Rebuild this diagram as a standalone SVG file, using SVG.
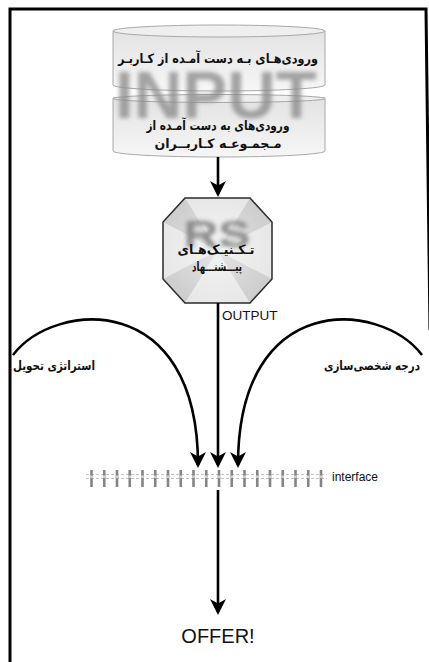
<svg xmlns="http://www.w3.org/2000/svg" width="429" height="662" viewBox="0 0 429 662">
<style>
.fa{font-family:"DejaVu Sans",sans-serif;font-weight:bold;fill:#111;}
.lat{font-family:"Liberation Sans",Arial,sans-serif;fill:#111;}
.conn{fill:none;stroke:#000;stroke-width:2.6;}
.cyl{stroke:#a8a8a8;stroke-width:1;}
</style>
<defs>
<linearGradient id="cylg" x1="0" y1="0" x2="0" y2="1">
<stop offset="0" stop-color="#e3e3e3"/><stop offset="1" stop-color="#f6f6f6"/>
</linearGradient>
<radialGradient id="octg" cx="0.5" cy="0.5" r="0.6">
<stop offset="0" stop-color="#ffffff" stop-opacity="0.5"/><stop offset="1" stop-color="#ffffff" stop-opacity="0"/>
</radialGradient>
<filter id="blur" x="-20%" y="-30%" width="140%" height="160%"><feGaussianBlur stdDeviation="2"/></filter>
<marker id="ah" markerUnits="userSpaceOnUse" viewBox="-14 -9 18 18" refX="0" refY="0" markerWidth="18" markerHeight="18" orient="auto">
<path d="M3,0 L-13,-8 L-8.5,0 L-13,8 Z" fill="#000"/>
</marker>
<g id="tick">
<rect x="-1.3" y="470" width="2.6" height="17" fill="#858585"/>
<rect x="-1.3" y="475.5" width="2.6" height="2.5" fill="#d0d0d0"/>
</g>
</defs>
<rect width="429" height="662" fill="#fff"/>
<!-- frame -->
<path d="M10,680 L10,9 L426,9 L430,330" fill="none" stroke="#000" stroke-width="3"/>

<g id="input-store">
<path class="cyl" d="M113,98 L113,151 A106,6 0 0 0 325,151 L325,98 Z" fill="url(#cylg)"/>
<ellipse class="cyl" cx="219" cy="98.5" rx="106" ry="4" fill="#eeeeee"/>
<path class="cyl" d="M113,31 L113,85 A106,6 0 0 0 325,85 L325,31 Z" fill="url(#cylg)"/>
<ellipse class="cyl" cx="219" cy="31" rx="106" ry="6" fill="#efefef"/>
<text x="216" y="118" text-anchor="middle" font-family="Liberation Sans,Arial,sans-serif" font-weight="bold" font-size="66" fill="#8c8c8c" opacity="0.78" filter="url(#blur)" textLength="202" lengthAdjust="spacingAndGlyphs">INPUT</text>
<text class="fa" x="218" y="63" text-anchor="middle" font-size="13" textLength="200" lengthAdjust="spacingAndGlyphs">ورودی‌هـای بـه دست آمـده از کـاربـر</text>
<text class="fa" x="218" y="130" text-anchor="middle" font-size="13" textLength="143" lengthAdjust="spacingAndGlyphs">ورودی‌های به دست آمـده از</text>
<text class="fa" x="218" y="148" text-anchor="middle" font-size="13" textLength="127" lengthAdjust="spacingAndGlyphs">مـجمـوعـه کـاربــران</text>
</g>

<g id="rs-technique">
<polygon points="185,198 250,198 272,222 272,279 250,303 185,303 163,279 163,222" fill="#cbcbcb"/>
<g fill="#e6e6e6">
<polygon points="217.5,250.5 185,198 250,198"/>
<polygon points="217.5,250.5 272,222 272,279"/>
<polygon points="217.5,250.5 250,303 185,303"/>
<polygon points="217.5,250.5 163,279 163,222"/>
</g>
<polygon points="185,198 250,198 272,222 272,279 250,303 185,303 163,279 163,222" fill="url(#octg)" stroke="#2a2a2a" stroke-width="1.5"/>
<text x="217" y="247" text-anchor="middle" font-family="Liberation Sans,Arial,sans-serif" font-weight="bold" font-size="36" fill="#7e7e7e" opacity="0.85" filter="url(#blur)" textLength="67" lengthAdjust="spacingAndGlyphs">RS</text>
<text class="fa" x="216" y="254" text-anchor="middle" font-size="13" textLength="77" lengthAdjust="spacingAndGlyphs">تـکـنیـک‌هـای</text>
<text class="fa" x="217" y="271" text-anchor="middle" font-size="13" textLength="50" lengthAdjust="spacingAndGlyphs">پیـــشنـــهاد</text>
</g>

<g id="interface">
<line x1="86" y1="474.5" x2="327" y2="474.5" stroke="#c4c4c4" stroke-width="1" stroke-dasharray="3,2"/>
<line x1="86" y1="478.5" x2="327" y2="478.5" stroke="#c4c4c4" stroke-width="1" stroke-dasharray="3,2"/>
<use href="#tick" x="91.5"/><use href="#tick" x="104.25"/><use href="#tick" x="117"/><use href="#tick" x="129.75"/>
<use href="#tick" x="142.5"/><use href="#tick" x="155.25"/><use href="#tick" x="168"/><use href="#tick" x="180.75"/>
<use href="#tick" x="193.5"/><use href="#tick" x="206.25"/><use href="#tick" x="219"/><use href="#tick" x="231.75"/>
<use href="#tick" x="244.5"/><use href="#tick" x="257.25"/><use href="#tick" x="270"/><use href="#tick" x="282.75"/>
<use href="#tick" x="295.5"/><use href="#tick" x="308.25"/><use href="#tick" x="321"/>
<text class="lat" x="332" y="481" font-size="12">interface</text>
</g>

<g id="offer">
<text class="lat" x="218" y="643" text-anchor="middle" font-size="20">OFFER!</text>
</g>

<g id="labels">
<text class="fa" x="54" y="370" text-anchor="middle" font-size="12.5" textLength="82" lengthAdjust="spacingAndGlyphs">استراتژی تحویل</text>
<text class="fa" x="372" y="370" text-anchor="middle" font-size="12.5" textLength="96" lengthAdjust="spacingAndGlyphs">درجه شخصی‌سازی</text>
<text class="lat" x="222" y="320" font-size="13.5">OUTPUT</text>
</g>

<g id="connectors">
<path class="conn" d="M218,157 L218,194" marker-end="url(#ah)"/>
<path class="conn" d="M218,303 L218,465" marker-end="url(#ah)"/>
<path class="conn" d="M13,355 C55,300 198,290 198,465" marker-end="url(#ah)"/>
<path class="conn" d="M422,355 C380,300 238,290 238,465" marker-end="url(#ah)"/>
<path class="conn" d="M218,490 L218,612" marker-end="url(#ah)"/>
</g>
</svg>
